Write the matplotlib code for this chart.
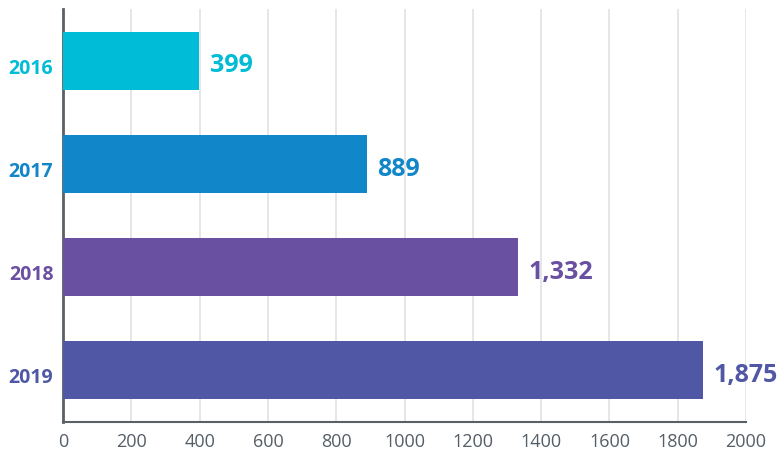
import matplotlib
matplotlib.use("Agg")
import matplotlib.pyplot as plt
from matplotlib.transforms import ScaledTranslation

years = ["2016", "2017", "2018", "2019"]
values = [399, 889, 1332, 1875]
value_labels = ["399", "889", "1,332", "1,875"]
bar_colors = ["#00bcd6", "#1187c9", "#6a50a0", "#5057a5"]
x_ticks = [0, 200, 400, 600, 800, 1000, 1200, 1400, 1600, 1800, 2000]

fig = plt.figure(figsize=(7.82, 4.56), dpi=100)
ax = fig.add_axes([0.0806, 0.0724, 0.8734, 0.9056])

pos = list(range(len(years)))
ax.barh(pos, values, height=0.56, color=bar_colors, zorder=3)

# value labels at the end of each bar (sit a little below centre, like the original)
for p, v, lab, c in zip(pos, values, value_labels, bar_colors):
    ax.annotate(lab, (v, p), xytext=(7.5, -3), textcoords="offset points",
                ha="left", va="center", color=c, fontsize=18,
                fontweight="bold", family=["Open Sans", "DejaVu Sans"])

ax.set_xlim(0, 2000)
ax.set_ylim(3.5, -0.5)

ax.tick_params(axis="both", length=0)
ax.tick_params(axis="x", pad=7)
ax.tick_params(axis="y", pad=7)

ax.set_xticks(x_ticks)
ax.set_xticklabels([str(t) for t in x_ticks],
                   family=["Open Sans", "DejaVu Sans"],
                   fontsize=13, color="#555e66")
ax.set_yticks(pos)
ax.set_yticklabels(years, family=["Open Sans", "DejaVu Sans"],
                   fontsize=14, fontweight="bold")
# nudge year labels down a few pixels (tick_params would reset this, so do it last)
shift = ScaledTranslation(0, -0.045, fig.dpi_scale_trans)
for lbl, c in zip(ax.get_yticklabels(), bar_colors):
    lbl.set_color(c)
    lbl.set_transform(lbl.get_transform() + shift)

ax.grid(axis="x", color="#e2e2e2", linewidth=1.2, zorder=0)
ax.set_axisbelow(True)

for side in ["top", "right"]:
    ax.spines[side].set_visible(False)
ax.spines["left"].set_color("#5a6066")
ax.spines["left"].set_linewidth(2)
ax.spines["bottom"].set_color("#5a6066")
ax.spines["bottom"].set_linewidth(1.5)

fig.savefig("out.png", dpi=100)
